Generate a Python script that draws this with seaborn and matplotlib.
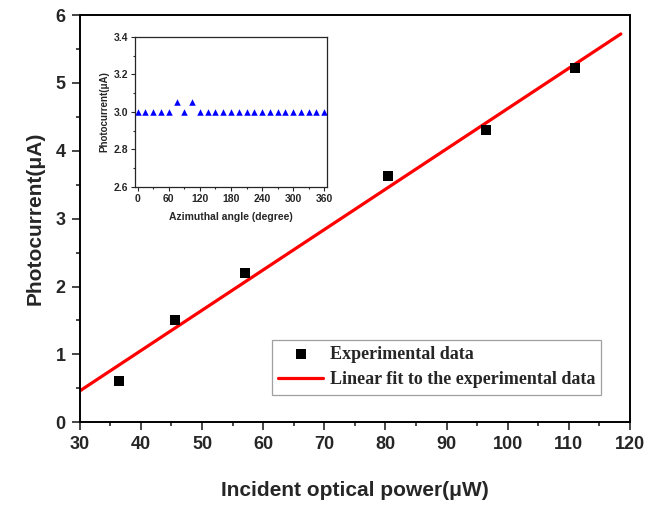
import numpy as np
import pandas as pd
import matplotlib
matplotlib.use("Agg")
import matplotlib.pyplot as plt
import seaborn as sns
from matplotlib.ticker import MultipleLocator

# Data
power_uW = [36.5, 45.5, 57.0, 80.5, 96.5, 111.0]
photocurrent_uA = [0.60, 1.50, 2.20, 3.63, 4.30, 5.22]
fit_range = [30.0, 118.5]

angles_deg = [0, 15, 30, 45, 60, 75, 90, 105, 120, 135, 150, 165, 180,
              195, 210, 225, 240, 255, 270, 285, 300, 315, 330, 345, 360]
inset_current = [3.0, 3.0, 3.0, 3.0, 3.0, 3.05, 3.0, 3.05, 3.0, 3.0, 3.0, 3.0, 3.0,
                 3.0, 3.0, 3.0, 3.0, 3.0, 3.0, 3.0, 3.0, 3.0, 3.0, 3.0, 3.0]

main_xticks = [30, 40, 50, 60, 70, 80, 90, 100, 110, 120]
main_yticks = [0, 1, 2, 3, 4, 5, 6]
inset_xticks = [0, 60, 120, 180, 240, 300, 360]
inset_yticks = [2.6, 2.8, 3.0, 3.2, 3.4]

sns.set_theme(style="ticks")
plt.rcParams['font.family'] = ['Liberation Sans', 'Noto Sans CJK SC', 'DejaVu Sans']

fig = plt.figure(figsize=(6.59, 5.05), dpi=100)
ax = fig.add_axes([0.121, 0.164, 0.835, 0.806])

df = pd.DataFrame({"x": power_uW, "y": photocurrent_uA})
slope, intercept = np.polyfit(power_uW, photocurrent_uA, 1)
fit_df = pd.DataFrame({"x": fit_range, "y": [slope * v + intercept for v in fit_range]})

sns.scatterplot(data=df, x="x", y="y", ax=ax, marker="s", s=50, color="black",
                edgecolor="black", linewidth=0, label="Experimental data", zorder=3)
sns.lineplot(data=fit_df, x="x", y="y", ax=ax, color="red", linewidth=2.3,
             label="Linear fit to the experimental data", zorder=2)

ax.set_xlim(30, 120)
ax.set_ylim(0, 6)
ax.set_xticks(main_xticks)
ax.set_yticks(main_yticks)
ax.xaxis.set_minor_locator(MultipleLocator(5))
ax.yaxis.set_minor_locator(MultipleLocator(0.5))
ax.tick_params(axis="both", which="major", direction="out", length=6, width=1.2,
               labelsize=13, pad=4)
ax.tick_params(axis="both", which="minor", direction="out", length=3, width=1.2)
for lab in ax.get_xticklabels() + ax.get_yticklabels():
    lab.set_fontweight("bold")
for sp in ax.spines.values():
    sp.set_linewidth(1.4)
    sp.set_color("black")

ax.set_xlabel("Incident optical power(μW)", fontsize=15, fontweight="bold", labelpad=20)
ax.set_ylabel("Photocurrent(μA)", fontsize=15, fontweight="bold", labelpad=8)

leg = ax.legend(loc="lower right", bbox_to_anchor=(0.948, 0.068), frameon=True,
                fancybox=False, edgecolor="#888888", handlelength=2.5,
                borderpad=0.35, labelspacing=0.45, handletextpad=0.35,
                borderaxespad=0.0,
                prop={"family": "Liberation Serif", "weight": "bold", "size": 13})
leg.get_frame().set_linewidth(0.9)

# Inset
axi = fig.add_axes([0.205, 0.630, 0.291, 0.297])
sns.scatterplot(x=angles_deg, y=inset_current, ax=axi, marker="^", s=22,
                color="#0000ff", edgecolor="#0000ff", linewidth=0)
axi.set_xlim(-5, 365)
axi.set_ylim(2.6, 3.4)
axi.set_xticks(inset_xticks)
axi.set_yticks(inset_yticks)
axi.xaxis.set_minor_locator(MultipleLocator(30))
axi.yaxis.set_minor_locator(MultipleLocator(0.1))
axi.tick_params(axis="both", which="major", direction="out", length=3, width=0.8,
                labelsize=7.5, pad=2)
axi.tick_params(axis="both", which="minor", direction="out", length=1.5, width=0.8)
for lab in axi.get_xticklabels() + axi.get_yticklabels():
    lab.set_fontweight("bold")
for sp in axi.spines.values():
    sp.set_linewidth(0.9)
axi.set_xlabel("Azimuthal angle (degree)", fontsize=7.5, fontweight="bold", labelpad=6)
axi.set_ylabel("Photocurrent(μA)", fontsize=7, fontweight="bold", labelpad=3)

fig.savefig("out.png", dpi=100)
